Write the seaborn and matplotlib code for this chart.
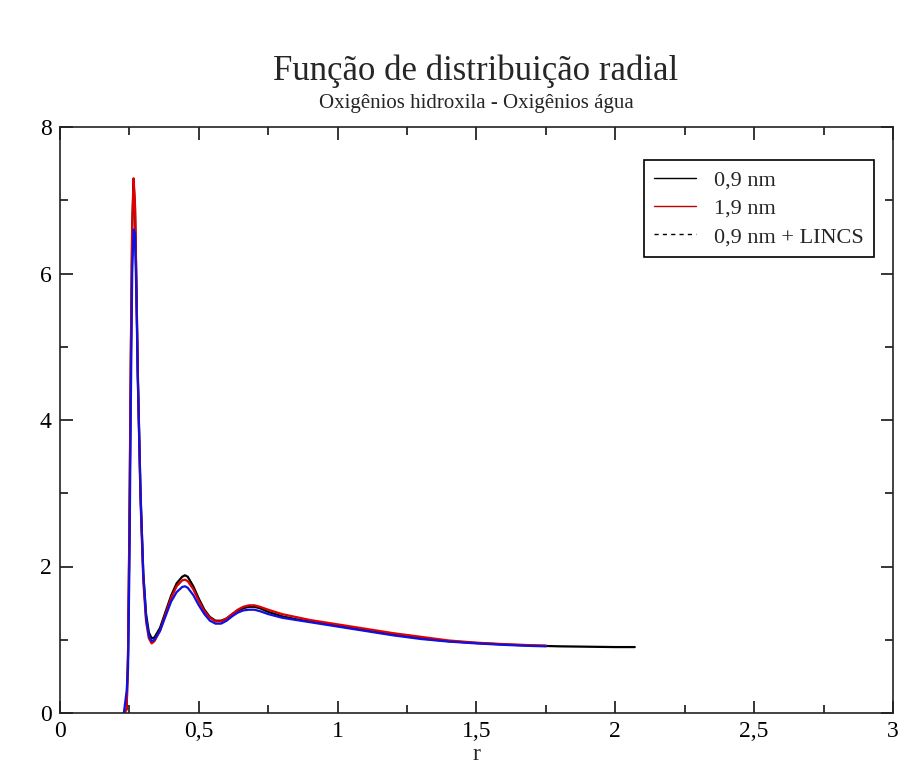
import numpy as np
import pandas as pd
import seaborn as sns
import matplotlib
matplotlib.use("Agg")
import matplotlib.pyplot as plt
from matplotlib.lines import Line2D
from matplotlib.ticker import MultipleLocator, FuncFormatter

# ---- data ----
r_09 = [0.23, 0.24, 0.245, 0.25, 0.255, 0.26, 0.265, 0.27, 0.275, 0.28, 0.29, 0.30,
        0.31, 0.32, 0.33, 0.34, 0.36, 0.38, 0.40, 0.42, 0.44, 0.45, 0.46, 0.48,
        0.50, 0.52, 0.54, 0.56, 0.58, 0.60, 0.62, 0.64, 0.66, 0.68, 0.70, 0.72,
        0.75, 0.80, 0.85, 0.90, 1.0, 1.1, 1.2, 1.3, 1.4, 1.5, 1.6, 1.7, 1.75,
        1.8, 1.9, 2.0, 2.07]
g_09 = [0.0, 0.05, 0.8, 2.5, 4.8, 6.6, 7.25, 6.9, 5.9, 4.7, 3.0, 1.9,
        1.35, 1.10, 1.02, 1.03, 1.16, 1.38, 1.60, 1.77, 1.86, 1.88, 1.86, 1.73,
        1.56, 1.41, 1.31, 1.26, 1.26, 1.29, 1.35, 1.40, 1.43, 1.45, 1.45, 1.43,
        1.38, 1.32, 1.28, 1.25, 1.19, 1.13, 1.07, 1.02, 0.98, 0.955, 0.935, 0.92, 0.915,
        0.91, 0.905, 0.90, 0.90]

r_19 = [0.23, 0.24, 0.245, 0.25, 0.255, 0.26, 0.265, 0.27, 0.275, 0.28, 0.29, 0.30,
        0.31, 0.32, 0.33, 0.34, 0.36, 0.38, 0.40, 0.42, 0.44, 0.45, 0.46, 0.48,
        0.50, 0.52, 0.54, 0.56, 0.58, 0.60, 0.62, 0.64, 0.66, 0.68, 0.70, 0.72,
        0.75, 0.80, 0.85, 0.90, 1.0, 1.1, 1.2, 1.3, 1.4, 1.5, 1.6, 1.7, 1.75]
g_19 = [0.0, 0.05, 0.8, 2.6, 4.9, 6.7, 7.3, 6.95, 5.9, 4.6, 2.9, 1.8,
        1.25, 1.02, 0.95, 0.98, 1.12, 1.35, 1.57, 1.73, 1.81, 1.82, 1.80, 1.69,
        1.53, 1.39, 1.30, 1.25, 1.25, 1.29, 1.35, 1.41, 1.45, 1.47, 1.47, 1.45,
        1.41, 1.35, 1.31, 1.27, 1.21, 1.15, 1.09, 1.04, 0.99, 0.96, 0.94, 0.925, 0.92]

r_lincs = [0.23, 0.24, 0.245, 0.25, 0.255, 0.26, 0.265, 0.27, 0.275, 0.28, 0.29, 0.30,
           0.31, 0.32, 0.33, 0.34, 0.36, 0.38, 0.40, 0.42, 0.44, 0.45, 0.46, 0.48,
           0.50, 0.52, 0.54, 0.56, 0.58, 0.60, 0.62, 0.64, 0.66, 0.68, 0.70, 0.72,
           0.75, 0.80, 0.85, 0.90, 1.0, 1.1, 1.2, 1.3, 1.4, 1.5, 1.6, 1.7, 1.75]
g_lincs = [0.0, 0.3, 0.6, 2.0, 4.2, 6.0, 6.6, 6.55, 5.7, 4.6, 3.0, 1.9,
           1.3, 1.05, 0.98, 1.00, 1.12, 1.32, 1.52, 1.65, 1.72, 1.73, 1.71, 1.61,
           1.47, 1.35, 1.26, 1.22, 1.22, 1.26, 1.32, 1.37, 1.40, 1.41, 1.41, 1.39,
           1.35, 1.30, 1.27, 1.24, 1.18, 1.12, 1.06, 1.01, 0.975, 0.95, 0.93, 0.915, 0.91]

series_names = ["0,9 nm", "1,9 nm", "0,9 nm + LINCS"]
series_colors = ["black", "#e00000", "#1010e0"]

title = "Função de distribuição radial"
subtitle = "Oxigênios hidroxila - Oxigênios água"
x_label = "r"

# ---- build long-form table ----
df = pd.concat([
    pd.DataFrame({"r": r_09, "g": g_09, "serie": series_names[0]}),
    pd.DataFrame({"r": r_19, "g": g_19, "serie": series_names[1]}),
    pd.DataFrame({"r": r_lincs, "g": g_lincs, "serie": series_names[2]}),
], ignore_index=True)

sns.set_style("ticks")
plt.rcParams["font.family"] = ["Liberation Serif", "DejaVu Serif"]

W, H = 906, 775
fig = plt.figure(figsize=(W / 100, H / 100), dpi=100)
L, R, T, B = 60, 893, 127, 713
ax = fig.add_axes([L / W, 1 - B / H, (R - L) / W, (B - T) / H])

sns.lineplot(data=df, x="r", y="g", hue="serie", hue_order=series_names,
             palette=dict(zip(series_names, series_colors)), sort=False,
             estimator=None, linewidth=1.6, legend=False, ax=ax)

ax.set_xlim(0, 3)
ax.set_ylim(0, 8)
ax.xaxis.set_major_locator(MultipleLocator(0.5))
ax.xaxis.set_minor_locator(MultipleLocator(0.25))
ax.yaxis.set_major_locator(MultipleLocator(2))
ax.yaxis.set_minor_locator(MultipleLocator(1))
fmt = FuncFormatter(lambda v, p: f"{v:g}".replace(".", ","))
ax.xaxis.set_major_formatter(fmt)
ax.yaxis.set_major_formatter(fmt)
ax.tick_params(which="both", direction="in", top=True, right=True,
               width=1.1, labelsize=17, colors="black")
ax.tick_params(which="major", length=9, pad=6)
ax.tick_params(which="minor", length=5.5)
for s in ax.spines.values():
    s.set_linewidth(1.2)
    s.set_color("#222222")

ax.set_xlabel(x_label, fontsize=17, labelpad=1)
ax.set_ylabel("")

fig.text(476 / W, 1 - 80 / H, title, ha="center", va="baseline", fontsize=25)
fig.text(476 / W, 1 - 108 / H, subtitle, ha="center", va="baseline", fontsize=15)

handles = [
    Line2D([], [], color="black", lw=1.0, ls="-"),
    Line2D([], [], color="#c00000", lw=1.0, ls="-"),
    Line2D([], [], color="black", lw=1.0, ls=(0, (3, 3))),
]
leg = ax.legend(handles, series_names, loc="upper right",
                bbox_to_anchor=(874 / W, 1 - 160 / H), bbox_transform=fig.transFigure,
                fontsize=16, frameon=True, fancybox=False, framealpha=1,
                edgecolor="black", borderpad=0.45, labelspacing=0.35,
                handlelength=1.9, handletextpad=0.8, borderaxespad=0)
leg.get_frame().set_linewidth(1.2)

fig.savefig("out.png", dpi=100, facecolor="white")
